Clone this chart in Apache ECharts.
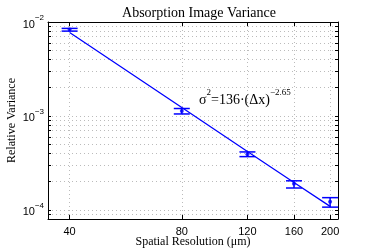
<!DOCTYPE html>
<html><head><meta charset="utf-8">
<script src="https://cdn.jsdelivr.net/npm/echarts@6/dist/echarts.min.js"></script>
<style>html,body{margin:0;padding:0;background:#fff}#c{width:374px;height:249px}</style>
</head><body><div id="c"></div>
<script>
// Data
const resolution = [40, 80, 120, 160, 200];            // µm
const variance   = [8.3e-3, 1.13e-3, 3.92e-4, 1.90e-4, 1.22e-4];
const errLow     = [8.0e-3, 1.05e-3, 3.69e-4, 1.71e-4, 1.07e-4];
const errHigh    = [8.55e-3, 1.20e-3, 4.14e-4, 2.04e-4, 1.35e-4];
const fitX       = [40, 80, 120, 160, 200];
const fitY       = [7.72e-3, 1.23e-3, 4.19e-4, 1.96e-4, 1.09e-4];
const xTickLabels = [40, 80, 120, 160, 200];
const yDecades    = [-4, -3, -2];
const xRange = [35, 210];
const yRange = [8.0e-5, 1e-2];

const L = Math.log10;
const yMinor = [];
for (let n = -5; n <= -2; n++) for (let k = 1; k <= 9; k++) {
  const v = k * Math.pow(10, n);
  if (v >= yRange[0] * 0.999 && v <= yRange[1] * 1.001) yMinor.push(L(v));
}
const xVals = xTickLabels.map(L);

const chart = echarts.init(document.getElementById('c'), null, {renderer: 'canvas'});
const serif = '"Liberation Serif", "DejaVu Serif", serif';
const sans = '"Liberation Sans", Arial, sans-serif';
const blue = '#0000ff';

const xCommon = {
  type: 'value', min: L(xRange[0]), max: L(xRange[1]),
  axisLine: {show: true, lineStyle: {color: '#000', width: 1}},
};
const yCommon = {
  type: 'value', min: L(yRange[0]), max: L(yRange[1]),
  axisLine: {show: true, lineStyle: {color: '#000', width: 1}},
};

chart.setOption({
  animation: false,
  title: {
    text: 'Absorption Image Variance', left: 194, top: 1, textAlign: 'center',
    textStyle: {fontFamily: serif, fontSize: 14, fontWeight: 'normal', color: '#000'}
  },
  grid: {left: 48, right: 36, top: 22, bottom: 30, containLabel: false, outerBoundsMode: 'none'},
  xAxis: [
    Object.assign({}, xCommon, {
      position: 'bottom',
      name: 'Spatial Resolution (μm)', nameLocation: 'middle', nameGap: 17, nameMoveOverlap: false,
      nameTextStyle: {fontFamily: serif, fontSize: 12, color: '#000'},
      axisTick: {show: true, inside: true, length: 4, customValues: xVals, lineStyle: {color: '#000'}},
      axisLabel: {show: true, customValues: xVals, margin: 7,
        formatter: v => String(Math.round(Math.pow(10, v))),
        fontFamily: sans, fontSize: 11, color: '#000'},
      splitLine: {show: true, lineStyle: {color: '#bbbbbb', type: [1, 3], width: 1}}
    }),
    Object.assign({}, xCommon, {
      position: 'top',
      axisTick: {show: true, inside: true, length: 4, customValues: xVals, lineStyle: {color: '#000'}},
      axisLabel: {show: false}, splitLine: {show: false}
    })
  ],
  yAxis: [
    Object.assign({}, yCommon, {
      position: 'left',
      name: 'Relative Variance', nameLocation: 'middle', nameGap: 30, nameMoveOverlap: false,
      nameTextStyle: {fontFamily: serif, fontSize: 12, color: '#000'},
      axisTick: {show: true, inside: true, length: 3, customValues: yMinor, lineStyle: {color: '#000'}},
      axisLabel: {show: true, customValues: yDecades, margin: 4,
        formatter: v => '{b|10}{s|' + (Math.round(v) < 0 ? '−' : '') + Math.abs(Math.round(v)) + '}',
        rich: {
          b: {fontFamily: sans, fontSize: 11, color: '#000', lineHeight: 16, verticalAlign: 'bottom'},
          s: {fontFamily: sans, fontSize: 8, color: '#000', lineHeight: 10, verticalAlign: 'top'}
        }},
      splitLine: {show: true, lineStyle: {color: '#bbbbbb', type: [1, 3], width: 1}}
    }),
    Object.assign({}, yCommon, {
      position: 'right',
      axisTick: {show: true, inside: true, length: 3, customValues: yMinor, lineStyle: {color: '#000'}},
      axisLabel: {show: false}, splitLine: {show: false}
    })
  ],
  graphic: [{
    type: 'text', left: 199, top: 88, z: 100,
    style: {
      text: '{a|σ}{s|2}{a|=136·(Δx)}{s|−2.65}',
      rich: {
        a: {fontFamily: serif, fontSize: 14, fill: '#000', lineHeight: 19, verticalAlign: 'bottom'},
        s: {fontFamily: serif, fontSize: 9, fill: '#000', lineHeight: 10, verticalAlign: 'top'}
      }
    }
  }],
  series: [
    {
      type: 'line', name: 'fit', symbol: 'none',
      data: fitX.map((x, i) => [L(x), L(fitY[i])]),
      lineStyle: {color: blue, width: 1.3}, z: 3
    },
    {
      type: 'custom', name: 'err',
      data: resolution.map((x, i) => [L(x), L(errLow[i]), L(errHigh[i])]),
      renderItem: (params, api) => {
        const lo = api.coord([api.value(0), api.value(1)]);
        const hi = api.coord([api.value(0), api.value(2)]);
        const hw = 8;
        const st = {stroke: blue, lineWidth: 1.5};
        return {type: 'group', children: [
          {type: 'line', shape: {x1: lo[0], y1: lo[1], x2: hi[0], y2: hi[1]}, style: st},
          {type: 'line', shape: {x1: lo[0] - hw, y1: lo[1], x2: lo[0] + hw, y2: lo[1]}, style: st},
          {type: 'line', shape: {x1: hi[0] - hw, y1: hi[1], x2: hi[0] + hw, y2: hi[1]}, style: st}
        ]};
      }, z: 4
    },
    {
      type: 'scatter', name: 'data', symbol: 'circle', symbolSize: 4,
      data: resolution.map((x, i) => [L(x), L(variance[i])]),
      itemStyle: {color: blue}, z: 5
    }
  ]
});
</script></body></html>
